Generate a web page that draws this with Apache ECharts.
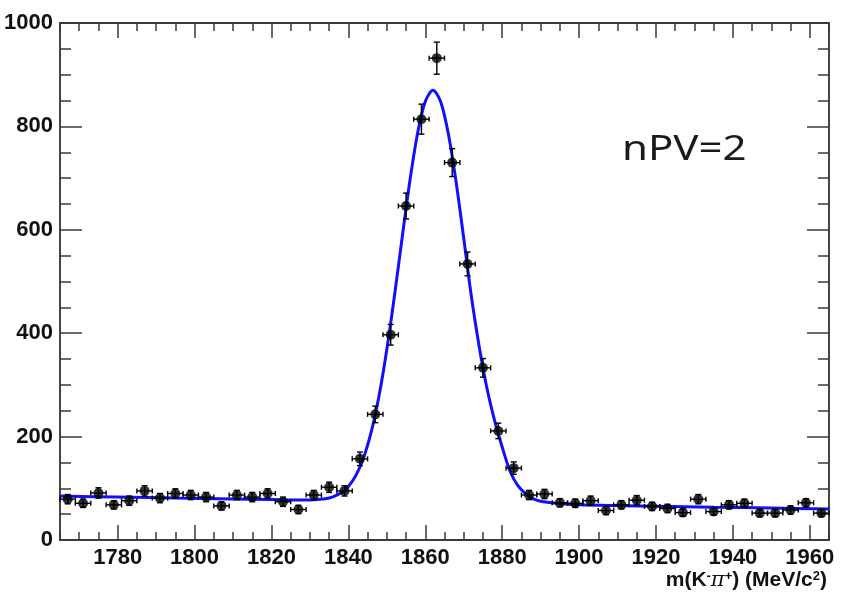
<!DOCTYPE html>
<html lang="en">
<head>
<meta charset="UTF-8">
<title>m(K-pi+) nPV=2</title>
<script src="https://cdn.jsdelivr.net/npm/echarts@6/dist/echarts.min.js"></script>
<style>html,body{margin:0;padding:0;background:#fff;}</style>
</head>
<body>
<div id="main" style="width:847px;height:606px;"></div>
<script type="text/javascript">
// bin centres, 4 MeV bins
var massBins = [1767, 1771, 1775, 1779, 1783, 1787, 1791, 1795, 1799, 1803,
    1807, 1811, 1815, 1819, 1823, 1827, 1831, 1835, 1839, 1843,
    1847, 1851, 1855, 1859, 1863, 1867, 1871, 1875, 1879, 1883,
    1887, 1891, 1895, 1899, 1903, 1907, 1911, 1915, 1919, 1923,
    1927, 1931, 1935, 1939, 1943, 1947, 1951, 1955, 1959, 1963];
var binHalfWidth = 2;
// entries per bin
var counts = [79, 71, 91, 68, 76, 95, 81, 90, 87, 83,
    66, 87, 83, 90, 74, 59, 87, 102, 95, 157,
    243, 397, 646, 814, 932, 730, 534, 333, 211, 139,
    87, 89, 72, 71, 76, 57, 68, 77, 65, 61,
    53, 79, 55, 68, 71, 52, 52, 58, 72, 52];
var countErrors = [9, 8, 10, 8, 9, 10, 9, 9, 9, 9,
    8, 9, 9, 9, 9, 8, 9, 10, 10, 13,
    16, 20, 25, 29, 31, 27, 23, 18, 15, 12,
    9, 9, 8, 8, 9, 8, 8, 9, 8, 8,
    7, 9, 7, 8, 8, 7, 7, 8, 8, 7];
// fit curve (blue)
var fitMass = [1765, 1780, 1795, 1810, 1820, 1826, 1830, 1834, 1836, 1838,
    1840, 1842, 1844, 1846, 1848, 1850, 1852, 1854, 1856, 1858,
    1860, 1862, 1864, 1866, 1868, 1870, 1872, 1874, 1876, 1878,
    1880, 1882, 1884, 1886, 1888, 1890, 1894, 1900, 1910, 1920,
    1935, 1950, 1965];
var fitCounts = [85, 83, 81, 79.5, 78.5, 77.5, 77.6, 79.9, 83.5, 90.7,
    103.6, 125.4, 159.8, 210.4, 279.9, 368.6, 473, 585.6, 694.9, 786.8,
    848.3, 869.9, 847.8, 785.8, 693.4, 583.6, 470.5, 375, 295, 232,
    180, 134, 106, 90, 80, 75, 71, 68, 66.5, 65.5,
    63.5, 62, 60];
var xLabels = [1780, 1800, 1820, 1840, 1860, 1880, 1900, 1920, 1940, 1960];

var pointData = [];
for (var i = 0; i < massBins.length; i++) {
    pointData.push([massBins[i], counts[i], countErrors[i]]);
}
var fitData = [];
for (var j = 0; j < fitMass.length; j++) {
    fitData.push([fitMass[j], fitCounts[j]]);
}

var frameColor = '#3a3a3a';
// plain numbers, no thousands separator
var plainNum = function (v) { return String(v); };
var labelFont = { fontSize: 22, fontWeight: 'bold', fontFamily: 'Liberation Sans', color: '#111', formatter: plainNum };

function xAxisDef(pos, major) {
    var ax = {
        type: 'value', position: pos, min: 1765, max: 1965,
        axisLine: { show: true, onZero: false, lineStyle: { color: frameColor, width: 1.5 } },
        splitLine: { show: false },
        axisLabel: { show: false },
        axisTick: { show: true, inside: true, length: major ? 15 : 8, lineStyle: { color: frameColor, width: 1.5 } }
    };
    if (major) {
        ax.axisTick.customValues = xLabels;
    } else {
        ax.interval = 5;
    }
    return ax;
}

var myChart = echarts.init(document.getElementById('main'));
var xMain = xAxisDef('bottom', true);
xMain.axisLabel = Object.assign({ show: true, customValues: xLabels, margin: 7 }, labelFont);

var option = {
    animation: false,
    grid: { left: 60, right: 18, top: 23, bottom: 66, show: true, borderColor: frameColor, borderWidth: 1.5 },
    xAxis: [xMain, xAxisDef('bottom', false), xAxisDef('top', true), xAxisDef('top', false)],
    yAxis: [0, 1].map(function (k) {
        return {
            type: 'value', position: k === 0 ? 'left' : 'right', min: 0, max: 1000, interval: 200,
            axisLine: { show: true, lineStyle: { color: frameColor, width: 1.5 } },
            splitLine: { show: false },
            axisTick: { show: true, inside: true, length: 22, lineStyle: { color: frameColor, width: 1.5 } },
            minorTick: { show: true, splitNumber: 4, length: 11, lineStyle: { color: frameColor, width: 1.5 } },
            axisLabel: k === 0 ? Object.assign({ show: true, margin: 7 }, labelFont) : { show: false }
        };
    }),
    graphic: [
        {
            type: 'text', right: 20, top: 570,
            style: {
                text: 'm(K{s|-}{p|π}{s|+}) (MeV/c{s|2})',
                fontSize: 21, fontWeight: 'bold', fontFamily: 'Liberation Sans', fill: '#111',
                rich: {
                    s: { fontSize: 13, fontWeight: 'bold', verticalAlign: 'top', fontFamily: 'Liberation Sans' },
                    p: { fontSize: 21, fontFamily: 'DejaVu Serif', fontStyle: 'italic' }
                }
            }
        },
        {
            type: 'text', x: 622, y: 133, scaleX: 1.2,
            style: { text: 'nPV=2', fontSize: 35, fontFamily: 'Noto Sans', fill: '#1a1a1a' }
        }
    ],
    series: [
        {
            name: 'fit', type: 'line', data: fitData, xAxisIndex: 0, yAxisIndex: 0,
            showSymbol: false, smooth: 0.3,
            lineStyle: { color: '#1010ff', width: 3 }, z: 2
        },
        {
            name: 'errors', type: 'custom', data: pointData, xAxisIndex: 0, yAxisIndex: 0, z: 3,
            renderItem: function (params, api) {
                var x = api.value(0), y = api.value(1), e = api.value(2);
                var c = api.coord([x, y]);
                var top = api.coord([x, y + e])[1];
                var bot = api.coord([x, y - e])[1];
                var l = api.coord([x - binHalfWidth, y])[0];
                var r = api.coord([x + binHalfWidth, y])[0];
                var st = { stroke: '#000', lineWidth: 1.4 };
                return {
                    type: 'group', children: [
                        { type: 'line', shape: { x1: c[0], y1: top, x2: c[0], y2: bot }, style: st },
                        { type: 'line', shape: { x1: l, y1: c[1], x2: r, y2: c[1] }, style: st },
                        { type: 'line', shape: { x1: c[0] - 3, y1: top, x2: c[0] + 3, y2: top }, style: st },
                        { type: 'line', shape: { x1: c[0] - 3, y1: bot, x2: c[0] + 3, y2: bot }, style: st },
                        { type: 'line', shape: { x1: l, y1: c[1] - 2.5, x2: l, y2: c[1] + 2.5 }, style: st },
                        { type: 'line', shape: { x1: r, y1: c[1] - 2.5, x2: r, y2: c[1] + 2.5 }, style: st }
                    ]
                };
            }
        },
        {
            name: 'data', type: 'scatter', data: pointData, xAxisIndex: 0, yAxisIndex: 0, z: 4,
            symbol: 'circle', symbolSize: 10, itemStyle: { color: '#000' }
        }
    ]
};
myChart.setOption(option);
</script>
</body>
</html>
